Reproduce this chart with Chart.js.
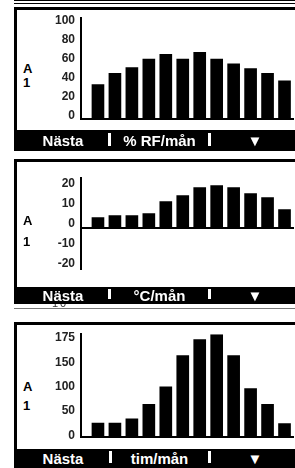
<!DOCTYPE html>
<html lang="sv">
<head>
<meta charset="utf-8">
<title>Klimat per månad</title>
<script src="https://cdn.jsdelivr.net/npm/chart.js@4.4.1/dist/chart.umd.min.js"></script>
<style>
  html, body { margin: 0; padding: 0; background: #fff; }
  body { width: 295px; height: 468px; position: relative; overflow: hidden;
         font-family: "Liberation Sans", Arial, sans-serif; }
  .line { position: absolute; left: 14px; right: 0; height: 1px; background: #000; }
  .frame { position: absolute; left: 14px; right: 0; border-left: 3px solid #000;
           border-top: 3px solid #000; background: #fff; }
  .bar { position: absolute; left: 14px; width: 281px; background: #000; }
  .sep { position: absolute; width: 3px; background: #fff; }
  .key { position: absolute; color: #fff; font-weight: bold; font-size: 15px;
         text-align: center; white-space: nowrap; }
  .side { position: absolute; left: 23px; font-weight: bold; font-size: 13px;
          line-height: 13px; color: #000; }
  canvas { position: absolute; left: 40px; }
</style>
</head>
<body>

<!-- skärm 1 -->
<div class="line" style="top:0"></div>
<div class="line" style="top:3px"></div>
<div class="frame" style="top:7px; height:123px"></div>
<div class="side" style="top:62px">A</div>
<div class="side" style="top:76px">1</div>
<canvas id="rf" width="255" height="127" style="top:5px"></canvas>
<div class="bar" style="top:130px; height:21px"></div>
<div class="sep" style="left:108px; top:133px; height:13px"></div>
<div class="sep" style="left:208px; top:133px; height:13px"></div>
<div class="key" style="left:16px; width:94px; top:132px; line-height:18px">Nästa</div>
<div class="key" style="left:111px; width:97px; top:132px; line-height:18px">% RF/mån</div>
<div class="key" style="left:245px; width:20px; top:132px; line-height:18px">▼</div>

<!-- skärm 2 -->
<div class="frame" style="top:159px; height:128px"></div>
<div class="side" style="top:214px">A</div>
<div class="side" style="top:235px">1</div>
<canvas id="temp" width="255" height="118" style="top:165px"></canvas>
<div class="bar" style="top:287px; height:17px"></div>
<div class="sep" style="left:108px; top:289px; height:10px"></div>
<div class="sep" style="left:208px; top:289px; height:10px"></div>
<div class="key" style="left:16px; width:94px; top:287px; line-height:18px">Nästa</div>
<div class="key" style="left:111px; width:97px; top:287px; line-height:18px">°C/mån</div>
<div class="key" style="left:245px; width:20px; top:287px; line-height:18px">▼</div>

<!-- avklippt rest mellan skärmarna -->
<div style="position:absolute; left:52px; top:304px; width:14px; height:5px; overflow:hidden">
  <div style="position:absolute; top:-6px; left:0; font-size:11px; line-height:11px; color:#333; letter-spacing:2px">10</div>
</div>
<div class="line" style="top:308px; background:#777"></div>

<!-- skärm 3 -->
<div class="frame" style="top:322px; height:127px"></div>
<div class="side" style="top:380px">A</div>
<div class="side" style="top:399px">1</div>
<canvas id="sun" width="255" height="129" style="top:321px"></canvas>
<div class="bar" style="top:449px; height:19px"></div>
<div class="sep" style="left:109px; top:451px; height:12px"></div>
<div class="sep" style="left:208px; top:451px; height:12px"></div>
<div class="key" style="left:16px; width:94px; top:450px; line-height:18px">Nästa</div>
<div class="key" style="left:111px; width:97px; top:450px; line-height:18px">tim/mån</div>
<div class="key" style="left:245px; width:20px; top:450px; line-height:18px">▼</div>

<script>
const MONTHS = ['jan', 'feb', 'mar', 'apr', 'maj', 'jun', 'jul', 'aug', 'sep', 'okt', 'nov', 'dec'];

// relativ fuktighet, % RF per månad
const RF_VALUES = [33, 45, 51, 60, 65, 60, 67, 60, 55, 50, 45, 37];
const RF_TICKS = [0, 20, 40, 60, 80, 100];
const RF_TICK_LABELS = ['0', '20', '40', '60', '80', '100'];

// temperatur, °C per månad
const TEMP_VALUES = [3, 4, 4, 5, 11, 14, 18, 19, 18, 15, 13, 7];
const TEMP_TICKS = [-20, -10, 0, 10, 20];
const TEMP_TICK_LABELS = ['-20', '-10', '0', '10', '20'];

// timmar per månad
const SUN_VALUES = [25, 25, 34, 64, 100, 164, 197, 207, 164, 96, 64, 24];
const SUN_TICKS = [0, 50, 100, 150, 200];
// displayen skriver "175" vid den översta, jämnt placerade markeringen
const SUN_TICK_LABELS = ['0', '50', '100', '150', '175'];

const tickFont = { family: 'Liberation Sans', size: 12, weight: 'bold' };

function lcdChart(id, values, ticks, tickLabels, min, max, base) {
    new Chart(document.getElementById(id), {
        type: 'bar',
        data: {
            labels: MONTHS,
            datasets: [{
                data: values.map((v, i) => ({ x: i + 1, y: v })),
                backgroundColor: '#000',
                borderWidth: 0,
                barThickness: 12,
                base: base // staplarna börjar vid nollinjen som displayen ritar
            }]
        },
        options: {
            responsive: false,
            animation: false,
            events: [],
            layout: { padding: { top: 8, bottom: 8, left: 0, right: 2 } },
            plugins: { legend: { display: false }, tooltip: { enabled: false } },
            scales: {
                x: {
                    type: 'linear',
                    min: 0,
                    max: 12.5,
                    offset: false,
                    position: { y: base },
                    grid: { display: false, drawTicks: false },
                    border: { display: true, color: '#000', width: 2 },
                    ticks: { display: false }
                },
                y: {
                    min: min,
                    max: max,
                    afterFit: s => { s.width = 41; },
                    afterBuildTicks: s => { s.ticks = ticks.map(v => ({ value: v })); },
                    grid: { display: false, drawTicks: false },
                    border: { display: true, color: '#000', width: 2 },
                    ticks: {
                        padding: 6,
                        color: '#222',
                        font: tickFont,
                        callback: (v, i) => tickLabels[i]
                    }
                }
            }
        }
    });
}

lcdChart('rf', RF_VALUES, RF_TICKS, RF_TICK_LABELS, -3, 103, -3);
lcdChart('temp', TEMP_VALUES, TEMP_TICKS, TEMP_TICK_LABELS, -23, 22.7, -2);
lcdChart('sun', SUN_VALUES, SUN_TICKS, SUN_TICK_LABELS, -3, 208, -3);
</script>
</body>
</html>
